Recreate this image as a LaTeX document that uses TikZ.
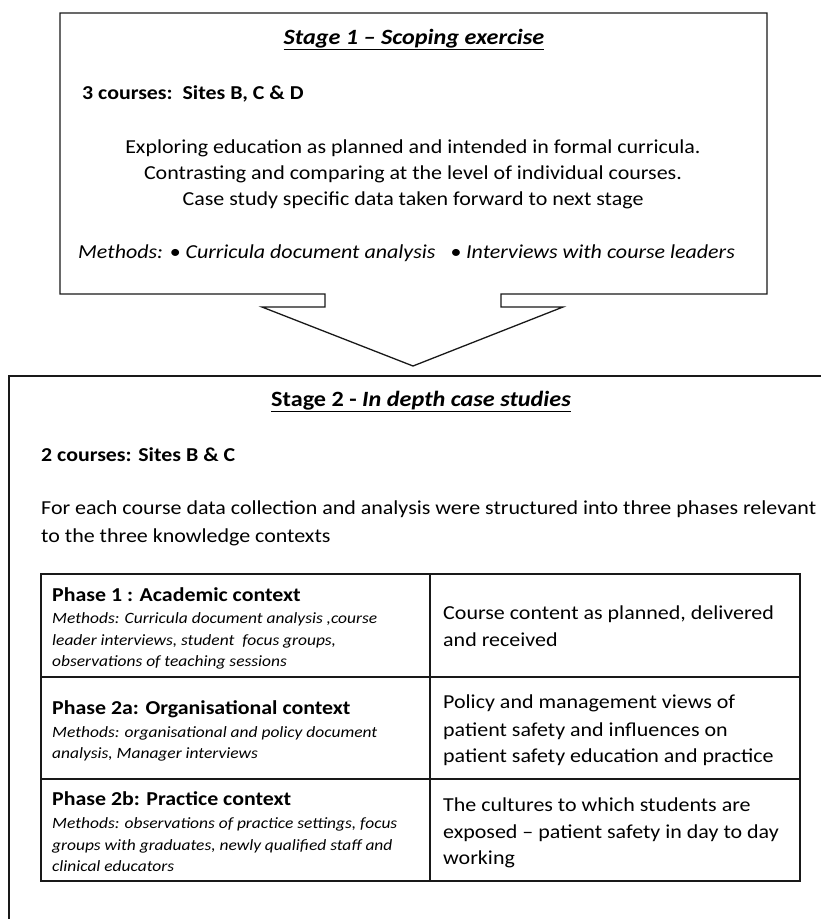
\documentclass[tikz,border=0pt]{standalone}
\usepackage{fontspec}
\setmainfont{Carlito}[FakeStretch=1.11]
\begin{document}
\begin{tikzpicture}[x=1pt,y=-1pt,
  txt/.style={inner sep=0pt, anchor=base west, font=\fontsize{19.8}{26}\selectfont},
  ctxt/.style={inner sep=0pt, anchor=base, font=\fontsize{19.8}{26}\selectfont},
  btxt/.style={inner sep=0pt, anchor=base west, font=\fontsize{19.7}{26}\selectfont\bfseries},
  mtxt/.style={inner sep=0pt, anchor=base west, font=\fontsize{15.7}{20}\selectfont\itshape},
  ttl/.style={inner sep=0pt, anchor=base, font=\fontsize{21.8}{26}\selectfont\bfseries},
  outline/.style={draw=black!90, line width=1.3pt, line join=miter},
  tbl/.style={draw=black!90, line width=1.6pt}]
\useasboundingbox (0,0) rectangle (821,919);
\begin{scope}
\clip (0,0) rectangle (821,919);
% Stage 1 box with arrow
\draw[outline] (325,294) -- (60,294) -- (60,13) -- (767,13) -- (767,294) -- (501,294)
  -- (501,307) -- (563,307) -- (413,366) -- (262,307) -- (325,307) -- cycle;
% Stage 2 box (cut off at right and bottom)
\draw[line width=2pt, draw=black!90] (830,376) -- (9,376) -- (9,930);
% table
\draw[tbl] (41,574) rectangle (800,881);
\draw[tbl] (430,574) -- (430,881);
\draw[tbl] (41,677) -- (800,677);
\draw[tbl] (41,779) -- (800,779);
\end{scope}
% Stage 1 texts
\node[ttl] (t1) at (414,44) {\underline{\itshape Stage 1 – Scoping exercise}};
\node[btxt] (c1) at (82,99) {3 courses:\ \ Sites B, C \& D};
\node[ctxt] (a1) at (413,153) {Exploring education as planned and intended in formal curricula.};
\node[ctxt] (a2) at (413,179) {Contrasting and comparing at the level of individual courses.};
\node[ctxt] (a3) at (413,205) {Case study specific data taken forward to next stage};
\node[txt,font=\fontsize{19.8}{26}\selectfont\itshape] (m1) at (78,258) {Methods: • Curricula document analysis\ \ \ • Interviews with course leaders};
% Stage 2 texts
\node[ttl] (t2) at (421,406) {\underline{Stage 2 - \itshape In depth case studies}};
\node[btxt] (c2) at (41,461) {2 courses: Sites B \& C};
\node[txt] (p1) at (41,514) {For each course data collection and analysis were structured into three phases relevant};
\node[txt] (p2) at (41,542) {to the three knowledge contexts};
% Row 1
\node[btxt] (r1t) at (52,601) {Phase 1 : Academic context};
\node[mtxt] (r1m1) at (52,623) {Methods: Curricula document analysis ,course};
\node[mtxt] (r1m2) at (52,645) {leader interviews, student\ \ focus groups,};
\node[mtxt] (r1m3) at (52,666) {observations of teaching sessions};
\node[txt] (r1r1) at (443,619) {Course content as planned, delivered};
\node[txt] (r1r2) at (443,646) {and received};
% Row 2
\node[btxt] (r2t) at (52,714) {Phase 2a: Organisational context};
\node[mtxt] (r2m1) at (52,737) {Methods: organisational and policy document};
\node[mtxt] (r2m2) at (52,758) {analysis, Manager interviews};
\node[txt] (r2r1) at (443,708) {Policy and management views of};
\node[txt] (r2r2) at (443,736) {patient safety and influences on};
\node[txt] (r2r3) at (443,762) {patient safety education and practice};
% Row 3
\node[btxt] (r3t) at (52,805) {Phase 2b: Practice context};
\node[mtxt] (r3m1) at (52,828) {Methods: observations of practice settings, focus};
\node[mtxt] (r3m2) at (52,850) {groups with graduates, newly qualified staff and};
\node[mtxt] (r3m3) at (52,871) {clinical educators};
\node[txt] (r3r1) at (443,811) {The cultures to which students are};
\node[txt] (r3r2) at (443,838) {exposed – patient safety in day to day};
\node[txt] (r3r3) at (443,864) {working};
\end{tikzpicture}
\end{document}
